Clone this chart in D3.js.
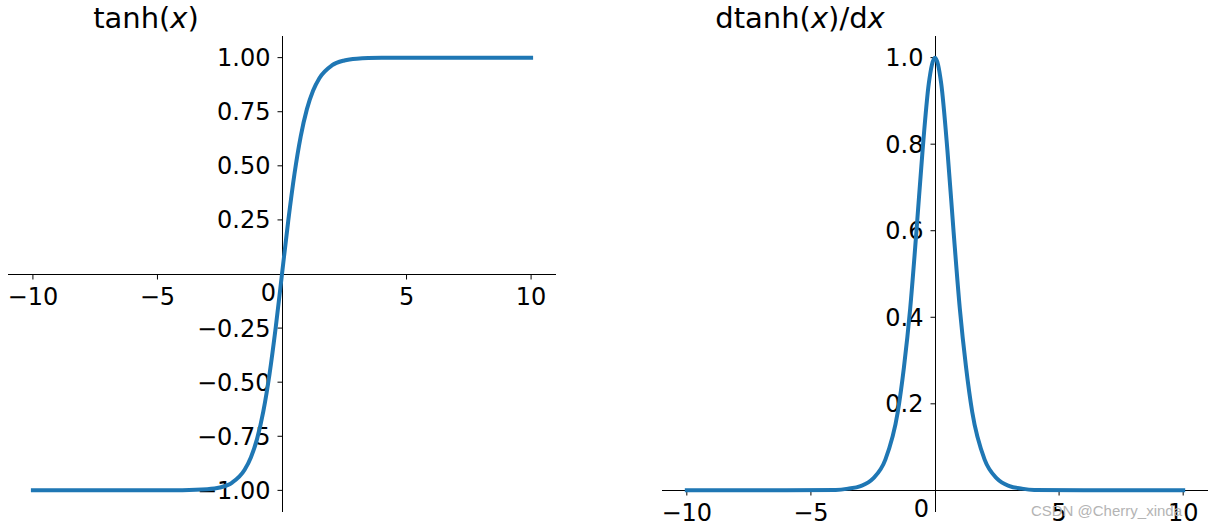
<!DOCTYPE html>
<meta charset="utf-8">
<html>
<head>
    <script src="https://d3js.org/d3.v7.min.js"></script>
    <style>
        body { margin: 0; background: #fff; }
        text { font-family: "DejaVu Sans", sans-serif; }
    </style>
</head>
<body>
<div id="chart"></div>
<script>
    // values
    var xTanh = [-10, -6, -4, -3, -2.5, -2, -1.5, -1.25, -1, -0.75, -0.5, -0.25, 0,
                 0.25, 0.5, 0.75, 1, 1.25, 1.5, 2, 2.5, 3, 4, 6, 10];
    var yTanh = [-1.0, -1.0, -0.999, -0.995, -0.987, -0.964, -0.905, -0.848, -0.762, -0.635, -0.462, -0.245, 0,
                 0.245, 0.462, 0.635, 0.762, 0.848, 0.905, 0.964, 0.987, 0.995, 0.999, 1.0, 1.0];
    var xDer = [-10, -6, -4, -3.5, -3, -2.5, -2, -1.5, -1.25, -1, -0.75, -0.5, -0.25, 0,
                0.25, 0.5, 0.75, 1, 1.25, 1.5, 2, 2.5, 3, 3.5, 4, 6, 10];
    var yDer = [0, 0, 0.001, 0.004, 0.010, 0.027, 0.071, 0.181, 0.285, 0.420, 0.597, 0.786, 0.940, 1.0,
                0.940, 0.786, 0.597, 0.420, 0.285, 0.181, 0.071, 0.027, 0.010, 0.004, 0.001, 0, 0];
    var xTicks = [-10, -5, 5, 10];
    var yTicksLeft = [-1, -0.75, -0.5, -0.25, 0.25, 0.5, 0.75, 1];
    var yTicksRight = [0.2, 0.4, 0.6, 0.8, 1.0];

    var svg = d3.select("#chart").append("svg")
        .attr("width", 1224).attr("height", 528);

    var color = "#1f77b4";

    function panel(opts) {
        var x = d3.scaleLinear().domain([-11, 11]).range(opts.xr);
        var y = d3.scaleLinear().domain(opts.yd).range([512, 36]);
        var g = svg.append("g");
        var x0 = Math.round(x(0)) + 0.5, y0 = Math.round(y(0)) + 0.5;

        // spines through the origin
        g.append("line")
            .attr("x1", x(-11)).attr("x2", x(11))
            .attr("y1", y0).attr("y2", y0)
            .attr("stroke", "#000").attr("stroke-width", 1);
        g.append("line")
            .attr("x1", x0).attr("x2", x0)
            .attr("y1", y(opts.yd[0])).attr("y2", y(opts.yd[1]))
            .attr("stroke", "#000").attr("stroke-width", 1);

        // x ticks
        xTicks.forEach(function (t) {
            g.append("line")
                .attr("x1", x(t)).attr("x2", x(t))
                .attr("y1", y0).attr("y2", y0 + 5)
                .attr("stroke", "#000");
            g.append("text")
                .attr("x", x(t)).attr("y", y0 + 30)
                .attr("text-anchor", "middle")
                .style("font-size", "24px")
                .text(d3.format("")(t).replace("-", "\u2212"));
        });
        g.append("text")
            .attr("x", x0 - 14).attr("y", y0 + 26)
            .attr("text-anchor", "middle")
            .style("font-size", "24px")
            .text("0");

        // y ticks
        opts.yTicks.forEach(function (t) {
            g.append("line")
                .attr("x1", x0 - 5).attr("x2", x0)
                .attr("y1", y(t)).attr("y2", y(t))
                .attr("stroke", "#000");
            g.append("text")
                .attr("x", x0 - 12).attr("y", y(t) + 8.5)
                .attr("text-anchor", "end")
                .style("font-size", "24px")
                .text(d3.format(opts.fmt)(t).replace("-", "\u2212"));
        });

        var line = d3.line()
            .x(function (d) { return x(d[0]); })
            .y(function (d) { return y(d[1]); })
            .curve(d3.curveMonotoneX);
        g.append("path")
            .datum(d3.zip(opts.xs, opts.ys))
            .attr("d", line)
            .attr("fill", "none")
            .attr("stroke", color)
            .attr("stroke-width", 4)
            .attr("stroke-linejoin", "round")
            .attr("stroke-linecap", "square");

        // title
        var title = g.append("text")
            .attr("x", opts.tx).attr("y", 28)
            .attr("text-anchor", "middle")
            .style("font-size", "29px");
        opts.title.forEach(function (p) {
            title.append("tspan")
                .style("font-style", p[1] ? "italic" : "normal")
                .text(p[0]);
        });
    }

    panel({
        xr: [8, 556], yd: [-1.1, 1.1], xs: xTanh, ys: yTanh,
        yTicks: yTicksLeft, fmt: ".2f", tx: 146,
        title: [["tanh(", false], ["x", true], [")", false]]
    });
    panel({
        xr: [662, 1208], yd: [-0.05, 1.05], xs: xDer, ys: yDer,
        yTicks: yTicksRight, fmt: ".1f", tx: 800,
        title: [["dtanh(", false], ["x", true], [")/d", false], ["x", true]]
    });

    // watermark
    svg.append("text")
        .attr("x", 1182).attr("y", 516)
        .attr("text-anchor", "end")
        .style("font-family", "Liberation Sans, sans-serif")
        .style("font-size", "15px")
        .attr("fill", "#b4b4b4")
        .text("CSDN @Cherry_xinda");
</script>
</body>
</html>
